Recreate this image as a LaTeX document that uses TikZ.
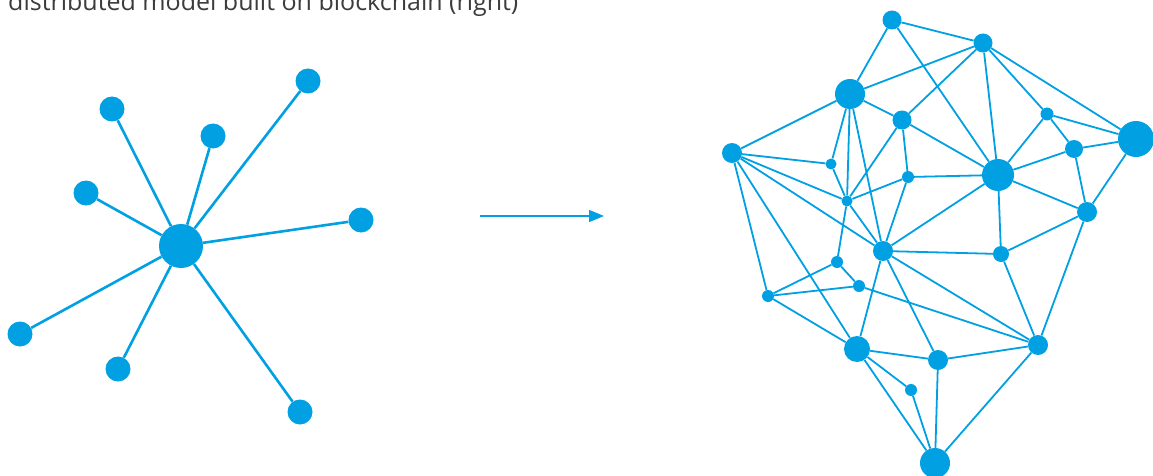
\documentclass[tikz,border=0pt]{standalone}
\usepackage{fontspec}
\setmainfont{Open Sans}
\usetikzlibrary{arrows.meta}
\definecolor{blu}{RGB}{0,160,227}
\definecolor{txt}{RGB}{60,60,60}
\tikzset{
  dot/.style={circle, fill=blu, draw=none, inner sep=0pt, minimum size=#1},
  starline/.style={draw=blu, line width=2.6pt},
  netline/.style={draw=blu, line width=1.8pt},
  arrowline/.style={draw=blu, line width=1.6pt, -{Triangle[length=15pt,width=12pt]}},
}
\begin{document}
\begin{tikzpicture}[x=1pt,y=-1pt]
\useasboundingbox (0,0) rectangle (1153,476);
\node[anchor=base west, inner sep=0pt, text=txt, font=\fontsize{25}{30}\selectfont] (title) at (8,11) {distributed model built on blockchain (right)};
% left star
\node[dot=44pt] (c) at (181,246) {};
\node[dot=25pt] (l1) at (112,109) {};
\node[dot=25pt] (l2) at (213,136) {};
\node[dot=25pt] (l3) at (308,81) {};
\node[dot=25pt] (l4) at (86,193) {};
\node[dot=25pt] (l5) at (361,220) {};
\node[dot=25pt] (l6) at (20,334) {};
\node[dot=25pt] (l7) at (118,369) {};
\node[dot=25pt] (l8) at (300,412) {};
\foreach \l in {l1,l2,l3,l4,l5,l6,l7,l8} \draw[starline] (c) -- (\l);
% arrow
\coordinate (a1) at (480,216);
\coordinate (a2) at (604,216);
\draw[arrowline] (a1) -- (a2);
% right network
\node[dot=19pt] (A) at (892,20) {};
\node[dot=19pt] (B) at (983,43) {};
\node[dot=30pt] (C) at (850,94) {};
\node[dot=19pt] (D) at (902,120) {};
\node[dot=13pt] (E) at (1047,114) {};
\node[dot=36pt] (F) at (1136,139) {};
\node[dot=20pt] (G) at (732,153) {};
\node[dot=11pt] (H) at (831,164) {};
\node[dot=12pt] (I) at (908,177) {};
\node[dot=32pt] (J) at (998,175) {};
\node[dot=18pt] (K) at (1074,149) {};
\node[dot=11pt] (L) at (847,201) {};
\node[dot=20pt] (M) at (1087,212) {};
\node[dot=20pt] (N) at (883,251) {};
\node[dot=16pt] (O) at (1001,254) {};
\node[dot=12pt] (P) at (837,262) {};
\node[dot=12pt] (Q) at (859,286) {};
\node[dot=12pt] (R) at (768,296) {};
\node[dot=26pt] (S) at (857,349) {};
\node[dot=20pt] (T) at (938,360) {};
\node[dot=20pt] (U) at (1038,345) {};
\node[dot=12pt] (V) at (911,390) {};
\node[dot=30pt] (W) at (935,463) {};
\foreach \a/\b in {A/B,A/C,A/J,B/C,B/D,B/J,B/E,B/F,C/G,C/D,C/H,C/L,C/N,D/J,D/I,D/L,
  G/H,G/L,G/N,G/R,G/S,H/L,L/I,L/N,L/P,I/J,I/N,E/J,E/K,E/F,J/K,J/M,J/N,J/O,K/F,K/M,F/M,
  M/O,M/U,N/O,N/S,N/T,N/U,O/U,P/Q,P/R,R/Q,R/S,Q/U,S/T,S/V,S/W,T/U,T/W,V/W,U/W}
  \draw[netline] (\a) -- (\b);
\end{tikzpicture}
\end{document}
